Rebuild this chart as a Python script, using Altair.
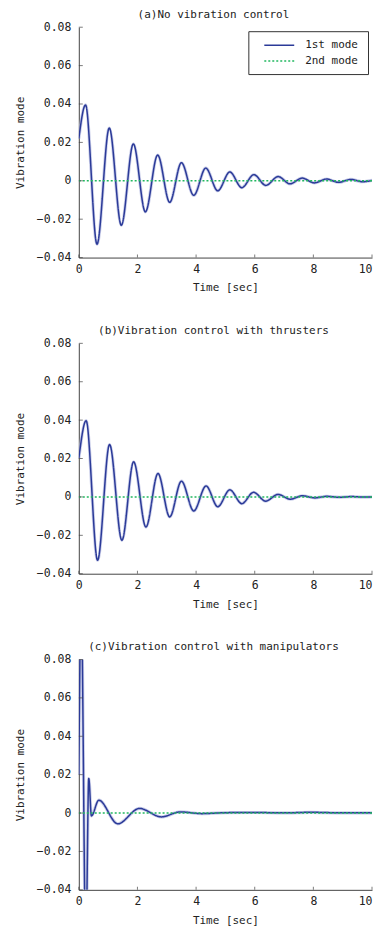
import altair as alt
import pandas as pd

# ---- data (time [sec], 1st mode value) ----
t_a = [0.0, 0.23, 0.62, 1.04, 1.45, 1.86, 2.27, 2.69, 3.10, 3.50, 3.92, 4.33, 4.74,
       5.15, 5.56, 5.97, 6.38, 6.80, 7.20, 7.62, 8.03, 8.45, 8.86, 9.27, 9.68, 10.0]
v_a = [0.022, 0.0395, -0.033, 0.0275, -0.0232, 0.0192, -0.0162, 0.0134, -0.0112, 0.0094,
       -0.0076, 0.0066, -0.0052, 0.0046, -0.0036, 0.0032, -0.0024, 0.0022, -0.0016, 0.0014,
       -0.0011, 0.0009, -0.0008, 0.0007, -0.0005, 0.0002]

t_b = [0.0, 0.25, 0.64, 1.05, 1.47, 1.87, 2.29, 2.70, 3.10, 3.50, 3.92, 4.34, 4.74,
       5.15, 5.56, 5.96, 6.37, 6.80, 7.21, 7.62, 8.05, 8.45, 8.90, 9.30, 9.70, 10.0]
v_b = [0.020, 0.0397, -0.033, 0.0273, -0.0226, 0.0183, -0.0157, 0.0122, -0.0104, 0.0082,
       -0.0073, 0.0057, -0.0051, 0.0037, -0.0035, 0.0024, -0.0022, 0.0013, -0.0012, 0.0006,
       -0.0005, 0.0003, -0.0002, 0.0002, -0.0001, 0.0]

t_c = [0.0, 0.08, 0.24, 0.34, 0.43, 0.68, 1.33, 2.07, 2.81, 3.46, 4.20, 5.00, 6.00,
       7.00, 7.90, 9.00, 10.0]
v_c = [0.020, 0.110, -0.070, 0.018, -0.0015, 0.0067, -0.0056, 0.0024, -0.0020, 0.0006,
       -0.0003, 0.0002, 0.0003, 0.0001, 0.0004, 0.0001, 0.0001]

# 2nd mode stays at zero
t_zero = [0.0, 10.0]
v_zero = [0.0, 0.0]

series = ["1st mode", "2nd mode"]
titles = ["(a)No vibration control",
          "(b)Vibration control with thrusters",
          "(c)Vibration control with manipulators"]
y_ticks = [-0.04, -0.02, 0.0, 0.02, 0.04, 0.06, 0.08]
x_ticks = [0, 2, 4, 6, 8, 10]

FONT = "DejaVu Sans Mono"
TXT = "#222222"
AX = "#444444"
W, H = 294, 231

xscale = alt.Scale(domain=[0, 10], nice=False)
yscale = alt.Scale(domain=[-0.04, 0.08], nice=False, zero=False)
xaxis = alt.Axis(values=x_ticks, title="Time [sec]", grid=False,
                 tickSize=0, labelPadding=6, titlePadding=7,
                 labelFlush=False, labelOverlap=False, format="d",
                 labelAlign={"condition": {"test": "datum.value == 10", "value": "right"},
                             "value": "center"})
yaxis = alt.Axis(values=y_ticks, title="Vibration mode", grid=False,
                 tickSize=0, labelPadding=8, titlePadding=11,
                 labelFlush=False, labelOverlap=False,
                 labelExpr="datum.value == 0 ? '0' : format(datum.value, '.2f')")


def panel(title, t, v):
    df = pd.DataFrame({
        "t": t + t_zero,
        "v": v + v_zero,
        "s": [series[0]] * len(t) + [series[1]] * len(t_zero),
    })
    xenc = alt.X("t:Q", scale=xscale, axis=xaxis)
    yenc = alt.Y("v:Q", scale=yscale, axis=yaxis)
    leg = alt.Legend(title=None, orient="top-right", offset=4,
                     strokeColor="#333333", fillColor="white", padding=8,
                     symbolType="M-3,0H3M15.6,0", symbolSize=100, symbolStrokeWidth=1.5,
                     symbolOffset=17, labelOffset=20, rowPadding=5,
                     labelFont=FONT, labelFontSize=11, labelColor=TXT)
    halo = alt.Chart(df).transform_filter(
        alt.datum.s == series[0]
    ).mark_line(clip=True, strokeWidth=3.2, color="#B3B9E0", opacity=0.7,
                interpolate="monotone").encode(x=xenc, y=yenc)
    lines = alt.Chart(df).mark_line(clip=True, strokeWidth=1.5, interpolate="monotone").encode(
        x=xenc, y=yenc,
        color=alt.Color("s:N", scale=alt.Scale(domain=series, range=["#2B3A98", "#22B860"]),
                        legend=leg),
        strokeDash=alt.StrokeDash("s:N", scale=alt.Scale(domain=series, range=[[1, 0], [2, 2]]),
                                  legend=leg),
    )
    ytick = alt.Chart(pd.DataFrame({"v": y_ticks})).mark_tick(
        color=AX, thickness=1, size=4, orient="horizontal"
    ).encode(y=yenc, x=alt.value(2))
    xtick = alt.Chart(pd.DataFrame({"t": x_ticks})).mark_tick(
        color=AX, thickness=1, size=3, orient="vertical"
    ).encode(x=xenc, y=alt.value(H - 1.5))
    return alt.layer(halo, lines, ytick, xtick).properties(
        width=W, height=H,
        title=alt.TitleParams(title, font=FONT, fontSize=11, fontWeight="normal",
                              color=TXT, offset=1, dx=-12),
    )


chart = alt.vconcat(
    panel(titles[0], t_a, v_a),
    panel(titles[1], t_b, v_b),
    panel(titles[2], t_c, v_c),
    spacing=32,
).properties(
    padding={"left": 6, "top": 0, "right": 0, "bottom": 0},
).configure(background="white").configure_view(stroke=None).configure_axis(
    domainColor=AX, domainWidth=1,
    labelFont=FONT, labelFontSize=11.5, labelColor=TXT,
    titleFont=FONT, titleFontSize=11, titleFontWeight="normal", titleColor=TXT,
)

chart.save("out.html", embed_options={"renderer": "svg", "actions": False})
